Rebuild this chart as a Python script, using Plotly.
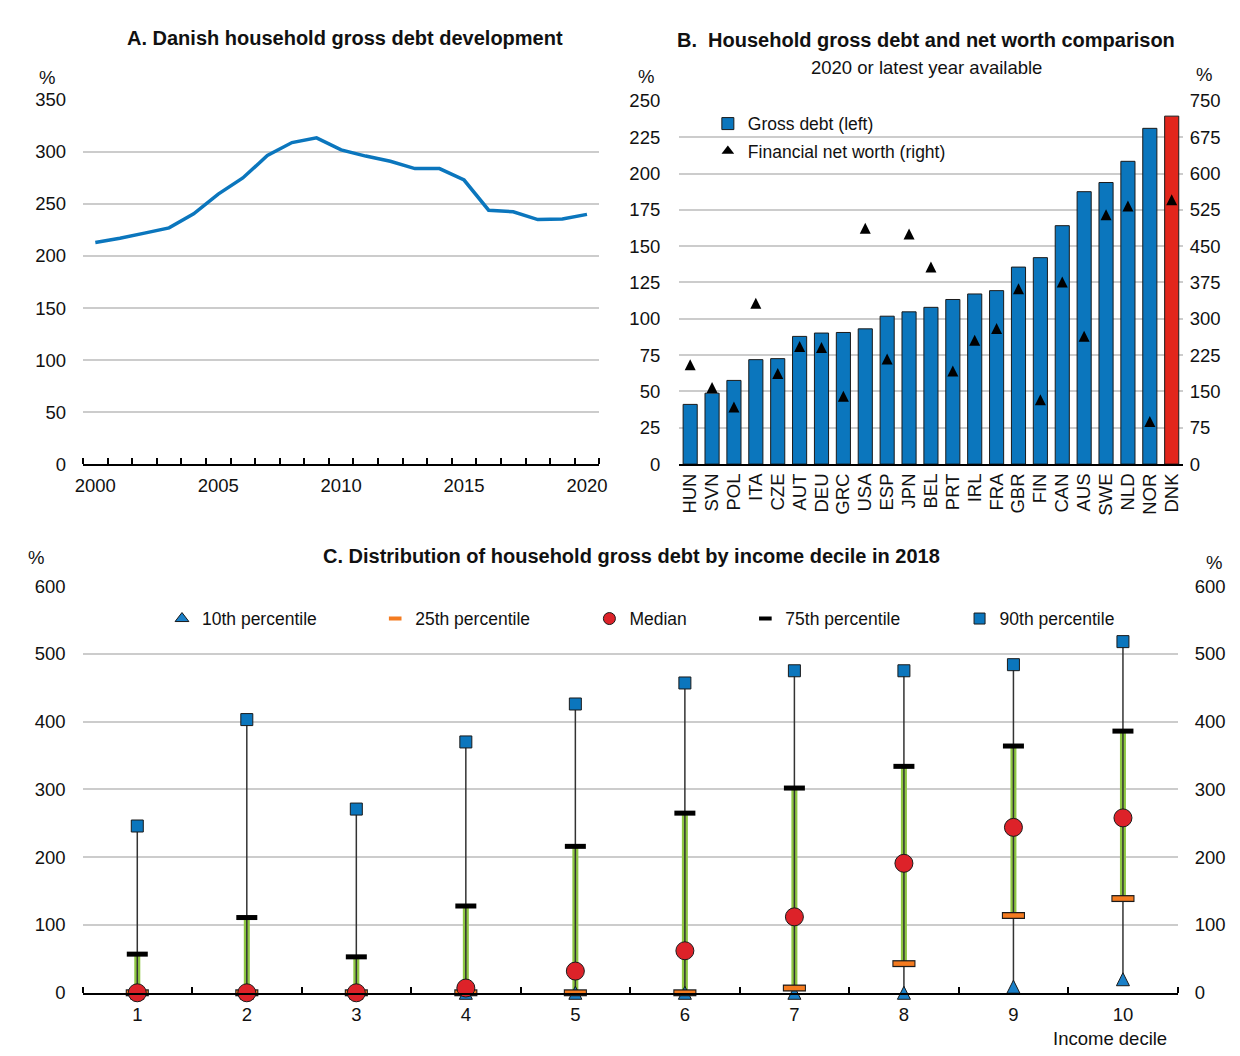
import plotly.graph_objects as go

# ---------------- data ----------------
# Panel A: Danish household gross debt, % of disposable income
years = list(range(2000, 2021))
dk_debt = [213, 217, 222, 227, 240.5, 259.5, 275, 296.5, 309, 313.5, 302,
           296, 291, 284, 284, 273, 244, 242.5, 235, 235.5, 240]

# Panel B: gross debt (left axis) and financial net worth (right axis)
countries = ["HUN", "SVN", "POL", "ITA", "CZE", "AUT", "DEU", "GRC", "USA", "ESP",
             "JPN", "BEL", "PRT", "IRL", "FRA", "GBR", "FIN", "CAN", "AUS", "SWE",
             "NLD", "NOR", "DNK"]
gross_debt = [41.1, 48.8, 57.6, 71.9, 72.6, 87.9, 90.2, 90.6, 93.1, 101.8,
              104.8, 107.9, 113.3, 117.1, 119.4, 135.6, 142.1, 164.1, 187.5, 193.8,
              208.4, 231.1, 239.5]
net_worth = [205, 158, 118, 332, 187, 243, 241, 140, 487, 217,
             475, 407, 192, 256, 280, 362, 133, 376, 264, 515,
             533, 88, 546]

# Panel C: distribution of gross debt by income decile, 2018
deciles = list(range(1, 11))
p10 = [0, 0, 0, 0, 0, 0, 0, 0, 9, 20]
p25 = [0, 0, 0, 0, 0, 0, 7, 43, 114, 139]
median = [0, 0, 0, 7, 32, 62, 112, 191, 244, 258]
p75 = [57, 111, 53, 128, 216, 265, 302, 334, 364, 386]
p90 = [246, 403, 271, 370, 426, 457, 475, 475, 484, 518]

# ---------------- style ----------------
W, H = 1240, 1056
FONT = "Liberation Sans, Arial, sans-serif"
BLUE = "#0b76bd"
RED = "#e2261c"
ORANGE = "#f47b20"
GREEN = "#8dc641"
GRID = "#cccccc"
OUTLINE = "#1a1a1a"
TXT = "#111111"
TRI_BLUE = "#1a80c8"
MED_RED = "#dd2229"


def px_x(v):
    return v / W


def px_y(v):
    return 1 - v / H


def segments(xs, lo, hi):
    sx, sy = [], []
    for x, a, b in zip(xs, lo, hi):
        sx += [x, x, None]
        sy += [a, b, None]
    return sx, sy


def up_triangle(size, color, outline=None):
    # isosceles triangle (width == height) centred on the data point
    m = dict(symbol="arrow-down", angle=180, standoff=size / 2, size=size, color=color)
    m["line"] = dict(color=outline or color, width=1 if outline else 0)
    return m


fig = go.Figure()


def legend_key(name, legend, xaxis, yaxis, marker):
    # marker-only entry that exists just to populate a legend
    fig.add_trace(go.Scatter(x=[None], y=[None], mode="markers", name=name,
                             marker=marker, legend=legend, hoverinfo="skip",
                             xaxis=xaxis, yaxis=yaxis))


# Panel A line
fig.add_trace(go.Scatter(x=years, y=dk_debt, mode="lines",
                         line=dict(color=BLUE, width=3.5),
                         showlegend=False, xaxis="x", yaxis="y"))

# Panel B bars and triangles
bar_colors = [RED if c == "DNK" else BLUE for c in countries]
fig.add_trace(go.Bar(x=countries, y=gross_debt, name="Gross debt (left)",
                     marker=dict(color=bar_colors, line=dict(color=OUTLINE, width=1)),
                     xaxis="x2", yaxis="y2", legend="legend"))
fig.add_trace(go.Scatter(x=countries, y=net_worth, mode="markers",
                         name="Financial net worth (right)", showlegend=False,
                         marker=up_triangle(11, "black"),
                         xaxis="x2", yaxis="y3", cliponaxis=False))
legend_key("Financial net worth (right)", "legend2", "x2", "y3",
           dict(symbol="triangle-up", size=11, color="black"))

# Panel C ranges: interquartile band and 10th-90th whisker
gx, gy = segments(deciles, p25, p75)
fig.add_trace(go.Scatter(x=gx, y=gy, mode="lines", line=dict(color=GREEN, width=6),
                         showlegend=False, hoverinfo="skip", xaxis="x3", yaxis="y4"))
wx, wy = segments(deciles, p10, p90)
fig.add_trace(go.Scatter(x=wx, y=wy, mode="lines", line=dict(color="#333333", width=1.5),
                         showlegend=False, hoverinfo="skip", xaxis="x3", yaxis="y4",
                         cliponaxis=False))

# Panel C percentile markers
fig.add_trace(go.Scatter(x=deciles, y=p10, mode="markers", name="10th percentile",
                         showlegend=False, marker=up_triangle(13, TRI_BLUE, OUTLINE),
                         xaxis="x3", yaxis="y4", cliponaxis=False))
fig.add_trace(go.Scatter(x=deciles, y=p25, mode="markers", showlegend=False,
                         hoverinfo="skip",
                         marker=dict(symbol="line-ew", size=16.5,
                                     line=dict(color=OUTLINE, width=7)),
                         xaxis="x3", yaxis="y4", cliponaxis=False))
fig.add_trace(go.Scatter(x=deciles, y=p25, mode="markers", name="25th percentile",
                         showlegend=False,
                         marker=dict(symbol="line-ew", size=15,
                                     line=dict(color=ORANGE, width=4.5)),
                         xaxis="x3", yaxis="y4", cliponaxis=False))
fig.add_trace(go.Scatter(x=deciles, y=median, mode="markers", name="Median",
                         showlegend=False,
                         marker=dict(symbol="circle", size=18, color=MED_RED,
                                     line=dict(color=OUTLINE, width=1)),
                         xaxis="x3", yaxis="y4", cliponaxis=False))
fig.add_trace(go.Scatter(x=deciles, y=p75, mode="markers", name="75th percentile",
                         showlegend=False,
                         marker=dict(symbol="line-ew", size=15,
                                     line=dict(color="black", width=5)),
                         xaxis="x3", yaxis="y4", cliponaxis=False))
fig.add_trace(go.Scatter(x=deciles, y=p90, mode="markers", name="90th percentile",
                         showlegend=False,
                         marker=dict(symbol="square", size=12, color=BLUE,
                                     line=dict(color=OUTLINE, width=1)),
                         xaxis="x3", yaxis="y4", cliponaxis=False))

# Panel C legend keys
legend_key("10th percentile", "legend3", "x3", "y4",
           dict(symbol="triangle-up", size=12, color=TRI_BLUE,
                line=dict(color=OUTLINE, width=1)))
legend_key("25th percentile", "legend4", "x3", "y4",
           dict(symbol="line-ew", size=9, line=dict(color=ORANGE, width=4)))
legend_key("Median", "legend5", "x3", "y4",
           dict(symbol="circle", size=12, color=MED_RED,
                line=dict(color=OUTLINE, width=1)))
legend_key("75th percentile", "legend6", "x3", "y4",
           dict(symbol="line-ew", size=9, line=dict(color="black", width=4)))
legend_key("90th percentile", "legend7", "x3", "y4",
           dict(symbol="square", size=11, color=BLUE,
                line=dict(color=OUTLINE, width=1)))

# right-hand axis of panel C
fig.add_trace(go.Scatter(x=[None], y=[None], showlegend=False, hoverinfo="skip",
                         xaxis="x3", yaxis="y5"))

tickfont = dict(family=FONT, size=18.5, color=TXT)
yaxis_common = dict(showgrid=True, gridcolor=GRID, gridwidth=2, zeroline=False,
                    showline=False, ticks="", tickfont=tickfont, fixedrange=True)
minor_common = dict(ticks="inside", ticklen=6, tickwidth=1.5, tickcolor="black",
                    showgrid=False)

# panel geometry in pixels
A_x = (76, 599); A_y = (90.7, 462.3)
B_x = (680, 1190); B_y = (91.7, 462.3)
C_x = (75.5, 1185); C_y = (586.7, 1001.7)

fig.update_layout(
    width=W, height=H, margin=dict(l=0, r=0, t=0, b=0),
    paper_bgcolor="white", plot_bgcolor="white",
    font=dict(family=FONT, size=18.5, color=TXT),
    bargap=0.355,
    xaxis=dict(domain=[px_x(A_x[0]), px_x(A_x[1])], anchor="y",
               range=[1999.5, 2020.5], tickmode="array",
               tickvals=[2000, 2005, 2010, 2015, 2020], ticks="",
               showline=True, linecolor="black", linewidth=2, showgrid=False,
               zeroline=False, tickfont=tickfont, ticklabelstandoff=4,
               minor=dict(tickmode="linear", tick0=1999.5, dtick=1, **minor_common)),
    yaxis=dict(domain=[px_y(A_y[1]), px_y(A_y[0])], anchor="x",
               range=[0, 350], dtick=50, ticklabelstandoff=16, **yaxis_common),
    xaxis2=dict(domain=[px_x(B_x[0]), px_x(B_x[1])], anchor="y2",
                type="category", range=[-0.5, 22.5], tickmode="array",
                tickvals=countries, tickangle=-90, ticks="",
                showline=True, linecolor="black", linewidth=2, showgrid=False,
                tickfont=tickfont),
    yaxis2=dict(domain=[px_y(B_y[1]), px_y(B_y[0])], anchor="x2",
                range=[0, 250], dtick=25, ticklabelstandoff=18, **yaxis_common),
    yaxis3=dict(overlaying="y2", side="right", anchor="x2", range=[0, 750], dtick=75,
                showgrid=False, zeroline=False, showline=False, ticks="",
                tickfont=tickfont, ticklabelstandoff=6, fixedrange=True),
    xaxis3=dict(domain=[px_x(C_x[0]), px_x(C_x[1])], anchor="y4",
                range=[0.5, 10.5], tickmode="array", tickvals=deciles, ticks="",
                showline=True, linecolor="black", linewidth=2, showgrid=False,
                zeroline=False, tickfont=tickfont, ticklabelstandoff=4,
                minor=dict(tickmode="linear", tick0=0.5, dtick=1, **minor_common)),
    yaxis4=dict(domain=[px_y(C_y[1]), px_y(C_y[0])], anchor="x3",
                range=[0, 600], dtick=100, ticklabelstandoff=16, **yaxis_common),
    yaxis5=dict(overlaying="y4", side="right", anchor="x3", range=[0, 600], dtick=100,
                showgrid=False, zeroline=False, showline=False, ticks="",
                tickfont=tickfont, ticklabelstandoff=16, fixedrange=True),
)

# single-entry legends, each placed on its own
legend_font = dict(family=FONT, size=17.5, color=TXT)
legend_spots = {
    "legend": (709, 115),
    "legend2": (709, 143),
    "legend3": (156, 620),
    "legend4": (372, 620),
    "legend5": (589, 620),
    "legend6": (747, 620),
    "legend7": (964, 620),
}
for key, (lx, ly) in legend_spots.items():
    fig.update_layout({key: dict(x=px_x(lx), y=px_y(ly), xanchor="left", yanchor="middle",
                                 bgcolor="rgba(0,0,0,0)", borderwidth=0,
                                 font=legend_font, itemsizing="trace",
                                 itemclick=False, itemdoubleclick=False)})


def label(text, x, y, size=18.5, anchor="center"):
    fig.add_annotation(text=text, x=px_x(x), y=px_y(y), xref="paper", yref="paper",
                       showarrow=False, xanchor=anchor, yanchor="middle",
                       font=dict(family=FONT, size=size, color=TXT))


label("<b>A. Danish household gross debt development</b>", 341, 27.5, size=20)
label("%", 40, 68)
label("<b>B.  Household gross debt and net worth comparison</b>", 930, 30, size=20)
label("2020 or latest year available", 930, 58, size=18.5)
label("%", 646, 67)
label("%", 1212, 65)
label("<b>C. Distribution of household gross debt by income decile in 2018</b>", 632, 556, size=20)
label("%", 28, 558)
label("%", 1222, 563)
label("Income decile", 1116.5, 1048, size=18.5)

fig.write_html("out.html")
